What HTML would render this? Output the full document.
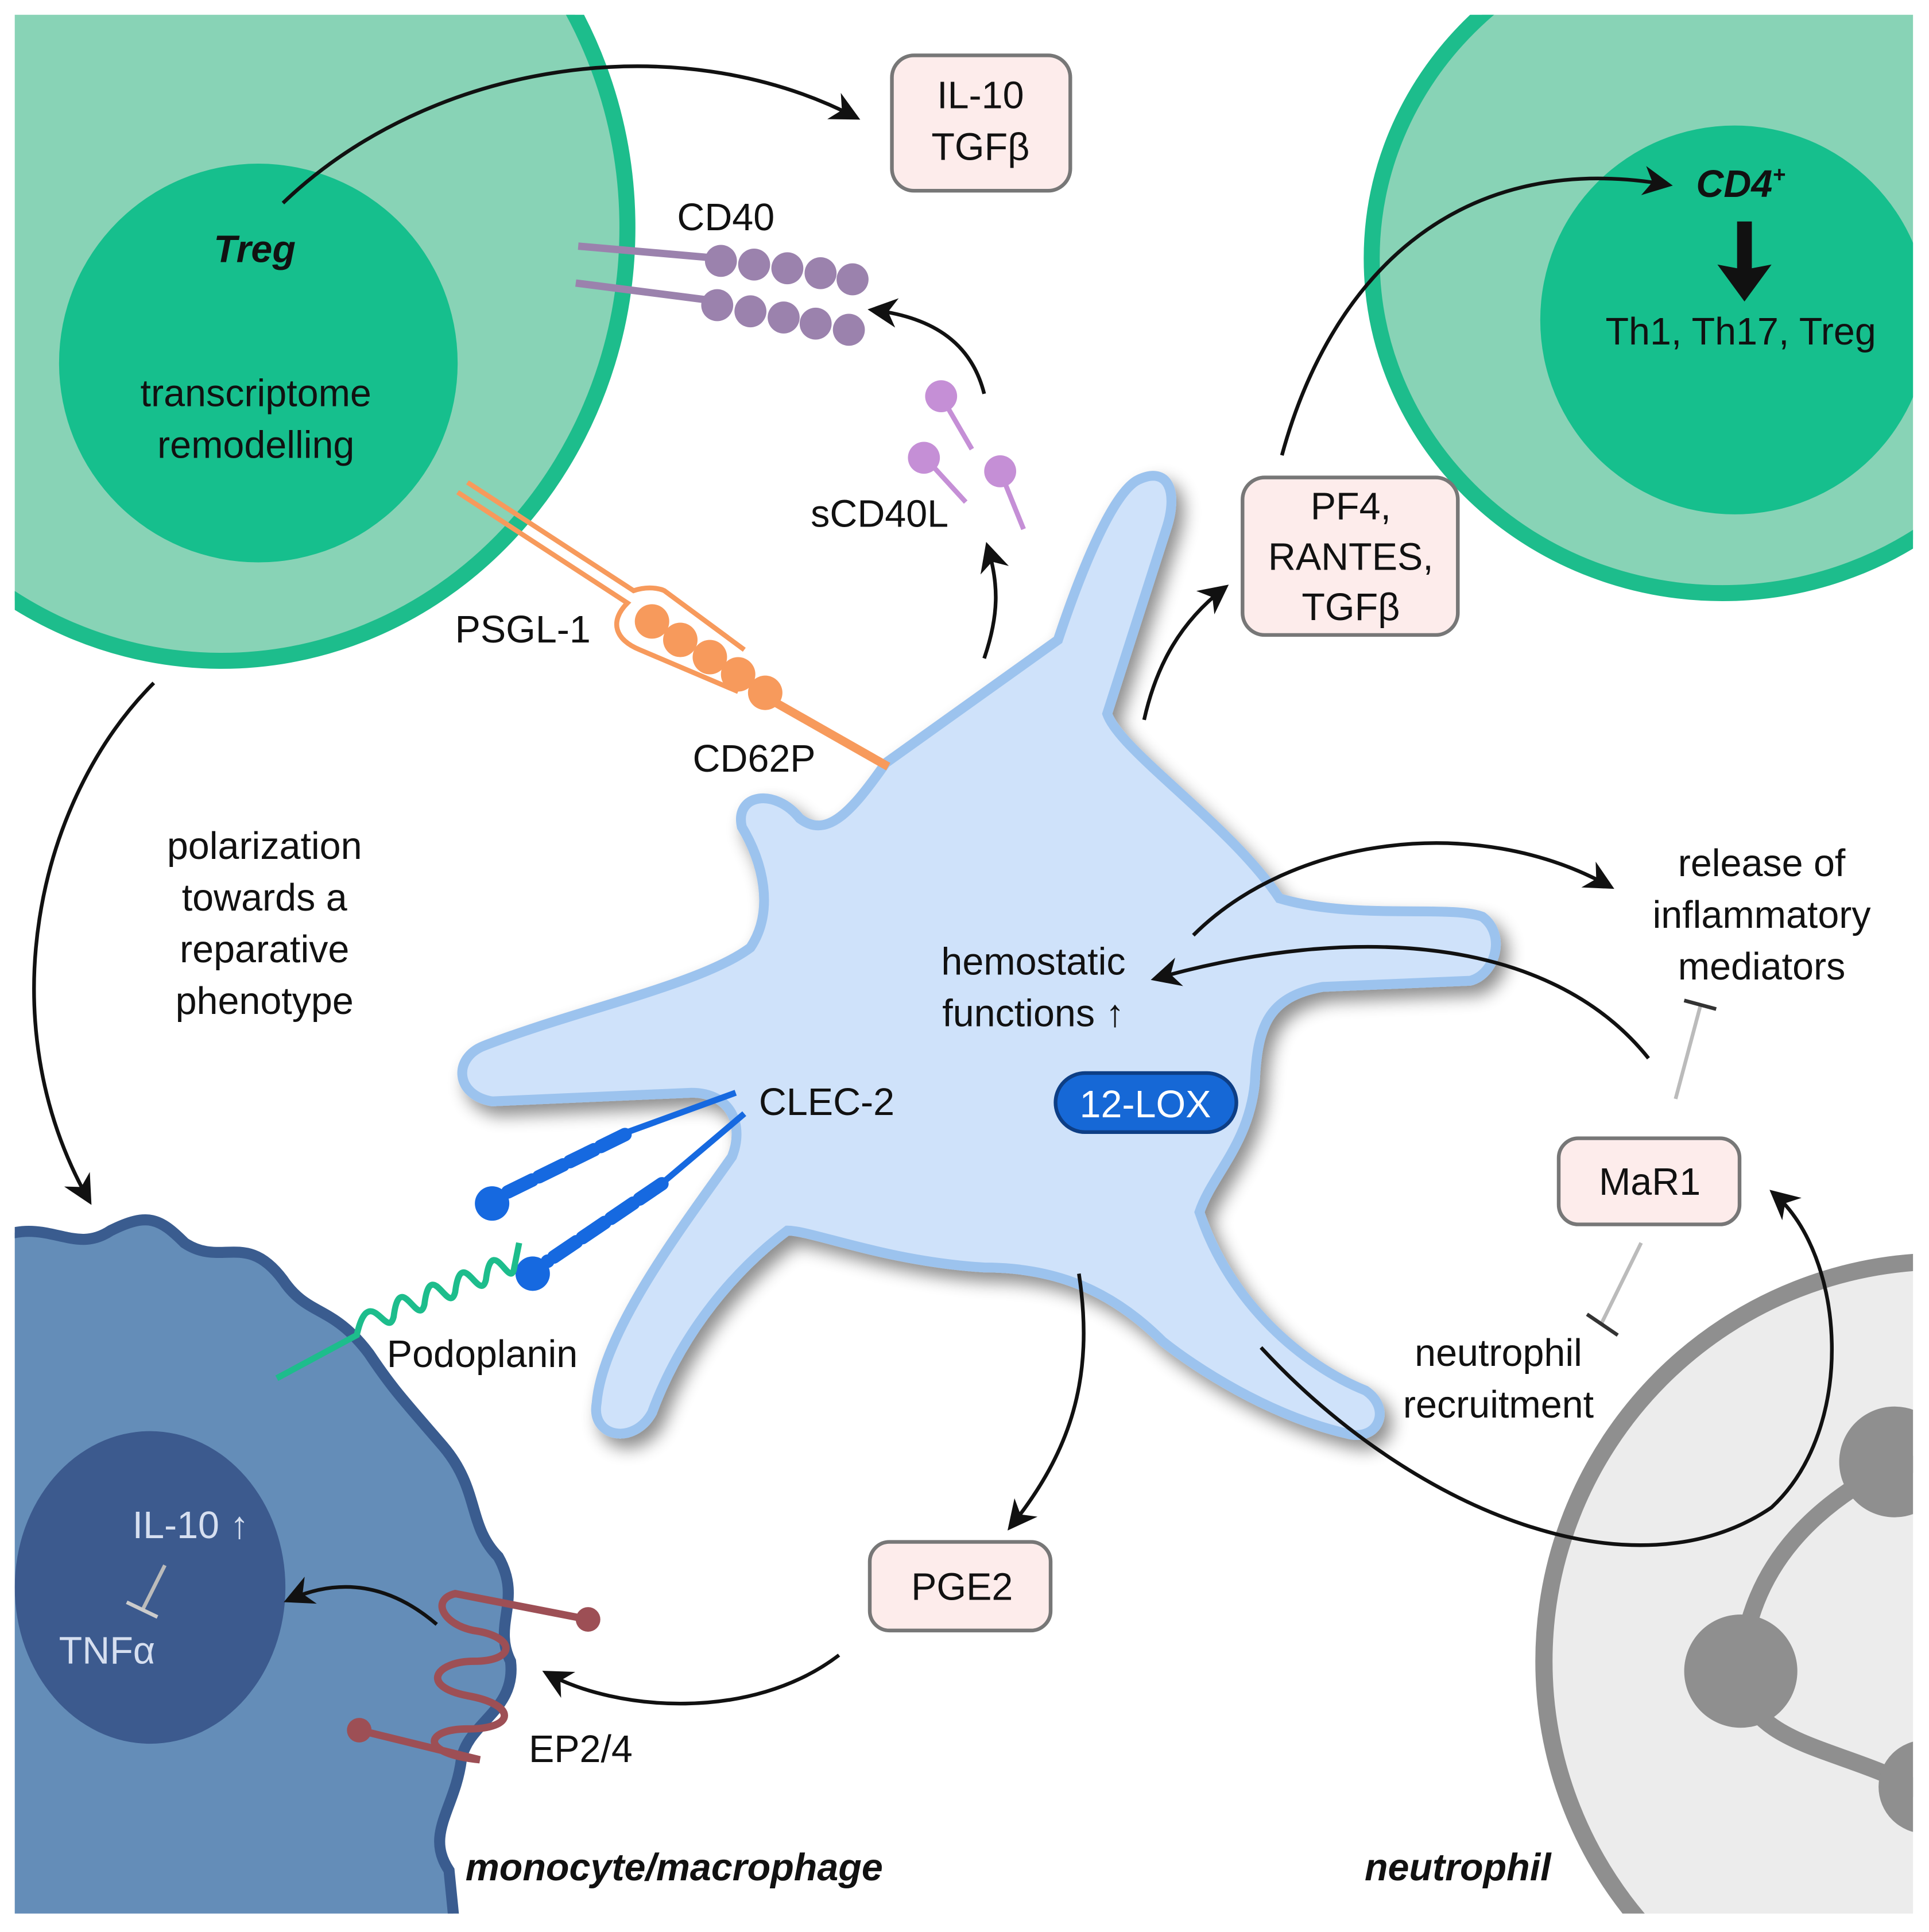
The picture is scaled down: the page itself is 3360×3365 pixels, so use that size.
<!DOCTYPE html>
<html><head><meta charset="utf-8"><style>html,body{margin:0;padding:0;background:#fff;overflow:hidden;width:3360px;height:3365px}svg{display:block}</style></head>
<body>
<svg width="3360" height="3365" viewBox="0 0 1568 1570" preserveAspectRatio="none" xmlns="http://www.w3.org/2000/svg" font-family="Liberation Sans, DejaVu Sans, sans-serif">
<defs>
<clipPath id="fr"><rect x="12" y="12" width="1543" height="1543"/></clipPath>
<marker id="ah" viewBox="0 0 10 10" refX="8" refY="5" markerWidth="24" markerHeight="24" markerUnits="userSpaceOnUse" orient="auto"><path d="M0,0 L10,5 L0,10 L3,5 Z" fill="#111"/></marker>
<filter id="sh" x="-10%" y="-10%" width="130%" height="130%"><feGaussianBlur in="SourceAlpha" stdDeviation="7"/><feOffset dx="6" dy="8"/><feComponentTransfer><feFuncA type="linear" slope="0.45"/></feComponentTransfer><feMerge><feMergeNode/><feMergeNode in="SourceGraphic"/></feMerge></filter>
</defs>
<rect width="1568" height="1570" fill="#fff"/>
<g clip-path="url(#fr)">
<ellipse cx="180" cy="185" rx="330" ry="352" fill="#88d3b6" stroke="#1dbd8c" stroke-width="13"/>
<circle cx="210" cy="295" r="162" fill="#16bf8d"/>
<ellipse cx="1400" cy="210" rx="285" ry="272" fill="#88d3b6" stroke="#1dbd8c" stroke-width="13"/>
<circle cx="1410" cy="260" r="158" fill="#16bf8d"/>
<path d="M0,1005 C40,990 60,1020 90,1000 C120,985 130,990 150,1010 C180,1030 200,1000 230,1040 C250,1070 270,1060 300,1100 C320,1130 330,1140 360,1175 C390,1210 380,1240 405,1265 C425,1300 400,1320 415,1350 C420,1390 380,1400 375,1430 C370,1470 345,1490 365,1520 L370,1570 L0,1570 Z" fill="#648db8" stroke="#3a5c8f" stroke-width="9"/>
<ellipse cx="122" cy="1290" rx="110" ry="127" fill="#3c5a8e"/>
<circle cx="1580" cy="1350" r="325" fill="#ececec" stroke="#8f8f8f" stroke-width="14"/>
<path d="M1540,1190 C1480,1220 1420,1270 1415,1360 C1420,1420 1500,1420 1560,1455" fill="none" stroke="#8f8f8f" stroke-width="14"/>
<path d="M1540,1190 L1570,1190" stroke="#8f8f8f" stroke-width="14"/>
<circle cx="1540" cy="1188" r="45" fill="#8f8f8f"/>
<circle cx="1415" cy="1358" r="46" fill="#8f8f8f"/>
<circle cx="1565" cy="1452" r="38" fill="#8f8f8f"/>
</g>
<path filter="url(#sh)" d="M720,620 L860,520 C880,460 905,400 925,390 C950,378 958,400 948,430 L900,580 C910,610 1000,670 1040,730 C1100,748 1180,735 1205,745 C1225,760 1215,792 1195,797 L1075,802 C1030,810 1022,835 1020,880 C1015,930 985,955 975,985 C1000,1060 1060,1110 1110,1130 C1132,1145 1120,1172 1095,1165 C1030,1150 970,1110 945,1090 C905,1050 860,1030 800,1030 C720,1025 660,1000 640,1000 C600,1030 555,1080 530,1148 C515,1175 480,1168 485,1140 C490,1080 560,990 595,940 C605,915 595,888 562,888 L400,895 C370,890 368,860 393,850 C470,820 570,800 610,770 C630,740 620,700 603,672 C597,645 630,640 650,665 C672,682 692,660 720,620 Z" fill="#cfe2fa" stroke="#9cc3ee" stroke-width="8"/>
<g stroke="#9b82ad" stroke-width="6"><line x1="470" y1="200" x2="585" y2="210"/><line x1="468" y1="230" x2="585" y2="245"/></g>
<g fill="#9b82ad"><circle cx="586" cy="212" r="13"/><circle cx="613" cy="215" r="13"/><circle cx="640" cy="218" r="13"/><circle cx="667" cy="222" r="13"/><circle cx="693" cy="227" r="13"/>
<circle cx="583" cy="248" r="13"/><circle cx="610" cy="253" r="13"/><circle cx="637" cy="258" r="13"/><circle cx="663" cy="263" r="13"/><circle cx="690" cy="268" r="13"/></g>
<g stroke="#c58fd6" stroke-width="4"><line x1="765" y1="322" x2="790" y2="365"/><line x1="752" y1="372" x2="785" y2="408"/><line x1="813" y1="383" x2="832" y2="430"/></g>
<g fill="#c58fd6"><circle cx="765" cy="322" r="13"/><circle cx="751" cy="372" r="13"/><circle cx="813" cy="383" r="13"/></g>
<g stroke="#f79a5c" stroke-width="4" fill="none"><path d="M372,400 L510,490 C495,505 500,520 520,528 L600,562"/><path d="M380,392 L515,480 C530,475 540,480 540,480 L605,528"/></g>
<line x1="620" y1="565" x2="722" y2="623" stroke="#f79a5c" stroke-width="7"/>
<g fill="#f79a5c"><circle cx="530" cy="505" r="14"/><circle cx="553" cy="520" r="14"/><circle cx="577" cy="534" r="14"/><circle cx="600" cy="548" r="14"/><circle cx="622" cy="563" r="14"/></g>
<g stroke="#1669e0" stroke-width="5"><line x1="598" y1="888" x2="510" y2="920"/><line x1="605" y1="905" x2="540" y2="960"/></g>
<g stroke="#1669e0" stroke-width="11" stroke-dasharray="22,6" stroke-linecap="round"><line x1="508" y1="922" x2="410" y2="970"/><line x1="538" y1="962" x2="445" y2="1025"/></g>
<circle cx="400" cy="978" r="14" fill="#1669e0"/><circle cx="433" cy="1035" r="14" fill="#1669e0"/>
<path d="M225,1120 L290,1085 C300,1040 315,1090 320,1070 C325,1030 340,1080 345,1060 C350,1020 365,1070 370,1050 C375,1010 390,1060 395,1040 C400,1000 415,1050 418,1030 L422,1010" fill="none" stroke="#1dbd8c" stroke-width="5"/>
<path d="M478,1316 L370,1295 C350,1300 360,1320 385,1325 C420,1330 420,1350 385,1350 C355,1350 340,1370 380,1378 C420,1385 420,1405 380,1405 C345,1405 340,1425 390,1430 L292,1406" fill="none" stroke="#9d4f55" stroke-width="6"/>
<circle cx="478" cy="1316" r="10" fill="#9d4f55"/><circle cx="292" cy="1406" r="10" fill="#9d4f55"/>
<g fill="#fdeceb" stroke="#777" stroke-width="3">
<rect x="725" y="45" width="145" height="110" rx="18"/>
<rect x="1010" y="388" width="175" height="128" rx="18"/>
<rect x="1267" y="925" width="147" height="70" rx="16"/>
<rect x="707" y="1253" width="147" height="72" rx="16"/>
</g>
<rect x="858" y="872" width="147" height="48" rx="24" fill="#1668d6" stroke="#0d3e85" stroke-width="3"/>
<g fill="none" stroke="#111" stroke-width="3" marker-end="url(#ah)">
<path d="M230,165 C350,50 550,20 695,95"/>
<path d="M125,555 C30,650 -10,830 72,975"/>
<path d="M800,320 C790,280 760,258 710,252"/>
<path d="M800,535 C812,500 812,475 803,445"/>
<path d="M930,585 C940,540 960,505 995,478"/>
<path d="M1042,370 C1080,230 1180,120 1355,150"/>
<path d="M970,760 C1050,680 1200,660 1308,720"/>
<path d="M1340,860 C1260,760 1100,750 940,795"/>
<path d="M1025,1095 C1150,1230 1330,1300 1440,1225 C1510,1160 1500,1020 1442,970"/>
<path d="M877,1035 C890,1120 870,1180 822,1240"/>
<path d="M682,1345 C610,1400 500,1390 445,1360"/>
<path d="M355,1320 C320,1290 280,1280 235,1300"/>
</g>
<polygon points="1412,180 1424,180 1424,218 1440,215 1418,245 1396,215 1412,218" fill="#111"/>
<g stroke="#bbb" stroke-width="3"><line x1="1362" y1="893" x2="1382" y2="818"/><line x1="1334" y1="1010" x2="1302" y2="1075"/><line x1="134" y1="1272" x2="116" y2="1308"/></g>
<g stroke="#333" stroke-width="3"><line x1="1369" y1="813" x2="1395" y2="820"/><line x1="1290" y1="1068" x2="1315" y2="1085"/></g>
<line x1="103" y1="1302" x2="128" y2="1314" stroke="#ccc" stroke-width="3"/>
<g font-size="31" fill="#111" text-anchor="middle">
<text x="207" y="213" font-weight="bold" font-style="italic">Treg</text>
<text x="208" y="330">transcriptome</text><text x="208" y="372">remodelling</text>
<text x="797" y="88">IL-10</text><text x="797" y="130">TGFβ</text>
<text x="590" y="187">CD40</text>
<text x="715" y="428">sCD40L</text>
<text x="425" y="522">PSGL-1</text>
<text x="613" y="627">CD62P</text>
<text x="1415" y="160" font-weight="bold" font-style="italic">CD4<tspan font-size="18" dy="-12">+</tspan></text>
<text x="1415" y="280">Th1, Th17, Treg</text>
<text x="1098" y="422">PF4,</text><text x="1098" y="463">RANTES,</text><text x="1098" y="504">TGFβ</text>
<text x="215" y="698">polarization</text><text x="215" y="740">towards a</text><text x="215" y="782">reparative</text><text x="215" y="824">phenotype</text>
<text x="1432" y="712">release of</text><text x="1432" y="754">inflammatory</text><text x="1432" y="796">mediators</text>
<text x="840" y="792">hemostatic</text><text x="840" y="834">functions ↑</text>
<text x="672" y="906">CLEC-2</text>
<text x="931" y="908" fill="#fff">12-LOX</text>
<text x="1341" y="971">MaR1</text>
<text x="392" y="1111">Podoplanin</text>
<text x="1218" y="1110">neutrophil</text><text x="1218" y="1152">recruitment</text>
<text x="782" y="1300">PGE2</text>
<text x="155" y="1250" fill="#d6dff0">IL-10 ↑</text>
<text x="87" y="1352" fill="#d6dff0">TNFα</text>
<text x="472" y="1432">EP2/4</text>
<text x="548" y="1528" font-weight="bold" font-style="italic">monocyte/macrophage</text>
<text x="1185" y="1528" font-weight="bold" font-style="italic">neutrophil</text>
</g>
</svg>
</body></html>
